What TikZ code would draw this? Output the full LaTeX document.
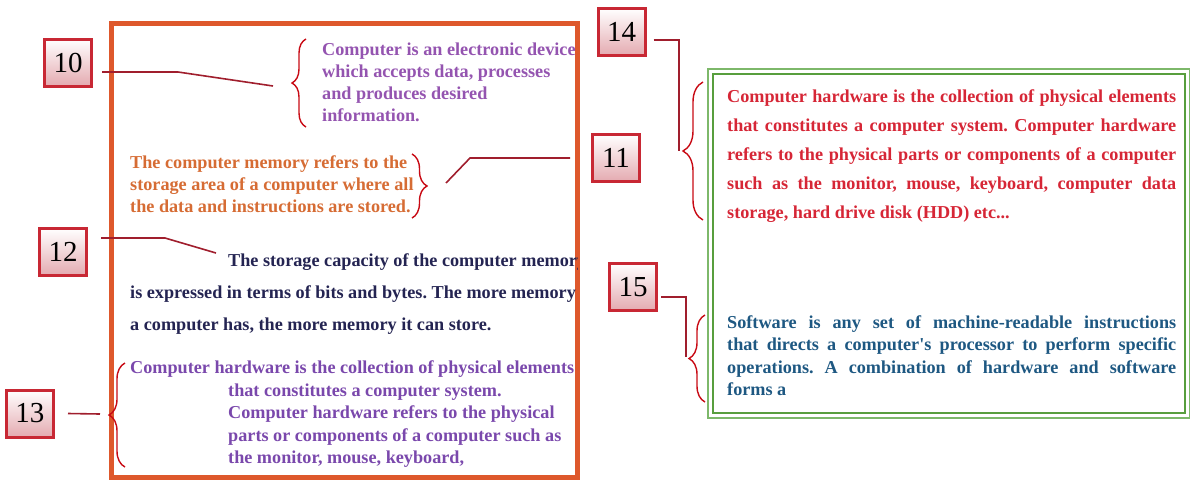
\documentclass[tikz,border=0pt]{standalone}
\usepackage{fontspec}
\setmainfont{Liberation Serif}
\usetikzlibrary{decorations.pathreplacing}
\definecolor{frameorange}{RGB}{222,88,44}
\definecolor{boxred}{RGB}{200,40,52}
\definecolor{boxpink}{RGB}{228,170,176}
\definecolor{linkred}{RGB}{160,30,45}
\definecolor{bracered}{RGB}{200,10,20}
\definecolor{purpleA}{RGB}{148,84,176}
\definecolor{purpleB}{RGB}{122,72,172}
\definecolor{orangetext}{RGB}{214,108,52}
\definecolor{navytext}{RGB}{36,36,82}
\definecolor{redtext}{RGB}{214,38,54}
\definecolor{bluetext}{RGB}{30,88,130}
\definecolor{greenA}{RGB}{125,184,106}
\definecolor{greenB}{RGB}{88,158,62}
\newcommand{\fullline}[1]{\makebox[449pt][s]{#1}}
\frenchspacing
\tikzset{
    numbox/.style={draw=boxred, line width=3pt, top color=white, bottom color=boxpink, minimum size=47pt, inner sep=0pt, font=\fontsize{29}{29}\selectfont},
    link/.style={linkred, line width=1.6pt},
    curly/.style={bracered, line width=1.4pt, decorate, decoration={brace, amplitude=#1}},
    note/.style={anchor=north west, inner sep=0pt, align=left, font=\bfseries\fontsize{18.2}{22}\selectfont}
}
\begin{document}
\begin{tikzpicture}[x=1pt, y=-1pt]
    \useasboundingbox (0,0) rectangle (1191,485);
    \draw[frameorange, line width=5pt] (111.5,23.5) rectangle (577.5,477);
    \draw[greenA, line width=1.5pt] (708,69) rectangle (1189.5,418);
    \draw[greenB, line width=2pt] (713,74) rectangle (1184.5,413);

    \node[note, purpleA] (device) at (322,42.5) {Computer is an electronic device\\which accepts data, processes\\and produces desired\\information.};
    \node[note, orangetext] (memory) at (130,155.5) {The computer memory refers to the\\storage area of a computer where all\\the data and instructions are stored.};
    \begin{scope}
        \clip (0,0) rectangle (577,485);
        \node[note, navytext, font=\bfseries\fontsize{18.2}{32}\selectfont] (capacity) at (130,253.5) {\hspace*{98pt}The storage capacity of the computer memory\\is expressed in terms of bits and bytes. The more memory\\a computer has, the more memory it can store.};
    \end{scope}
    \node[note, purpleB, font=\bfseries\fontsize{18.2}{22.5}\selectfont] (hardware) at (130,360.5) {Computer hardware is the collection of physical elements\\\hspace*{98pt}that constitutes a computer system.\\\hspace*{98pt}Computer hardware refers to the physical\\\hspace*{98pt}parts or components of a computer such as\\\hspace*{98pt}the monitor, mouse, keyboard,};
    \node[note, redtext, font=\bfseries\fontsize{18.2}{29}\selectfont] (physical) at (727,89.5) {\fullline{Computer hardware is the collection of physical elements}\\\fullline{that constitutes a computer system. Computer hardware}\\\fullline{refers to the physical parts or components of a computer}\\\fullline{such as the monitor, mouse, keyboard, computer data}\\storage, hard drive disk (HDD) etc...};
    \node[note, bluetext, font=\bfseries\fontsize{18.2}{22.3}\selectfont] (software) at (727,315.5) {\fullline{Software is any set of machine-readable instructions}\\\fullline{that directs a computer\textquotesingle s processor to perform specific}\\\fullline{operations. A combination of hardware and software}\\forms a};

    \draw[curly=14pt] (306,127) -- (306,39);
    \draw[curly=15pt] (412,154) -- (412,218);
    \draw[curly=16pt] (125,467) -- (125,363);
    \draw[curly=20pt] (703,220) -- (703,82);
    \draw[curly=16pt] (705,402) -- (705,315);

    \node[numbox] (n10) at (68,62.5) {10};
    \node[numbox] (n11) at (616,158) {11};
    \node[numbox] (n12) at (63,252) {12};
    \node[numbox] (n13) at (30,413.5) {13};
    \node[numbox] (n14) at (621.5,32) {14};
    \node[numbox] (n15) at (633,287) {15};

    \coordinate (t10) at (273,86);
    \coordinate (t11) at (446,183);
    \coordinate (t12) at (216,253);
    \coordinate (t13) at (100,414);
    \coordinate (t14) at (679,151);
    \coordinate (t15) at (686,357);
    \draw[link] ([xshift=9pt,yshift=-9.5pt]n10.east) -- ++(76,0) -- (t10);
    \draw[link] ([xshift=-21pt]n11.west) -- ++(-100,0) -- (t11);
    \draw[link] ([xshift=13pt,yshift=14pt]n12.east) -- ++(64,0) -- (t12);
    \draw[link] ([xshift=13pt]n13.east) -- (t13);
    \draw[link] ([xshift=7pt,yshift=-8pt]n14.east) -| (t14);
    \draw[link] ([xshift=3pt,yshift=-10pt]n15.east) -| (t15);
\end{tikzpicture}
\end{document}
